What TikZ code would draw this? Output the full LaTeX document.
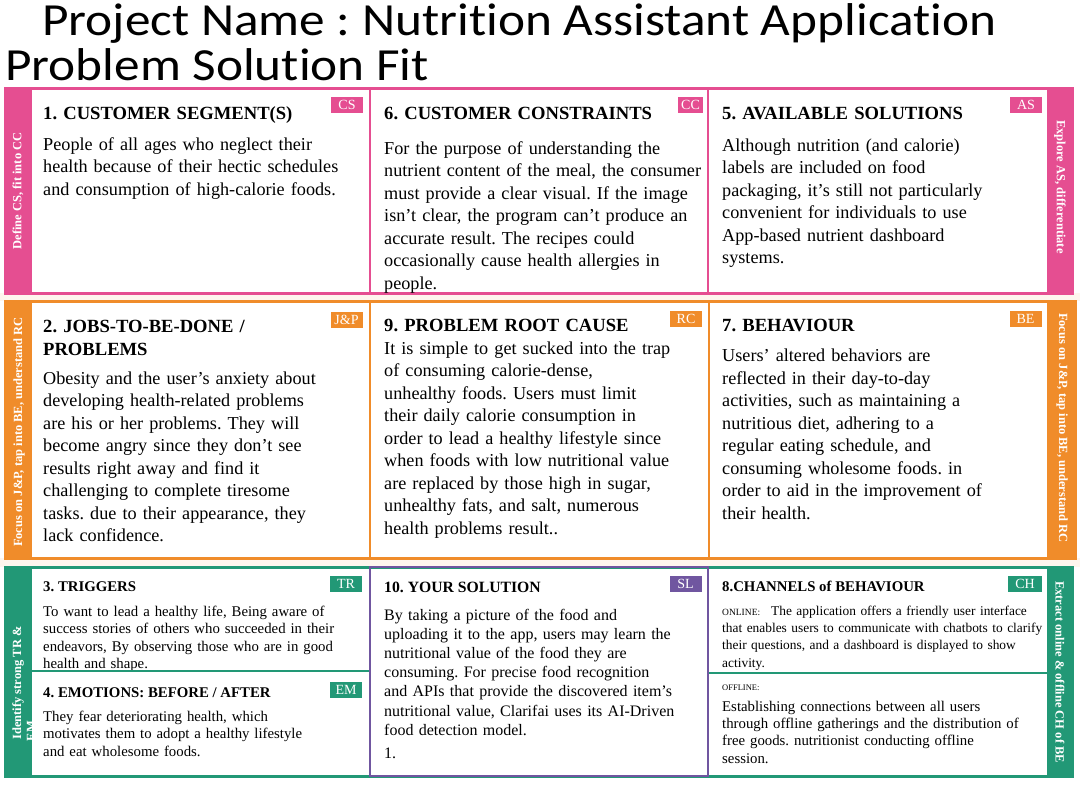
\documentclass[tikz,border=0pt]{standalone}
\usepackage{fontspec}
\setmainfont{Liberation Serif}
\newfontfamily\titlefont[Ligatures=NoCommon]{Carlito}
\usetikzlibrary{positioning}
\definecolor{fitpink}{RGB}{229,78,145}
\definecolor{fitorange}{RGB}{240,140,42}
\definecolor{fitgreen}{RGB}{34,152,118}
\definecolor{fitpurple}{RGB}{112,86,160}
\newcommand{\fsz}[2]{\fontsize{#1}{#2}\selectfont}
\frenchspacing

\tikzset{
  tagbox/.style={fill=#1, text=white, font=\fsz{14}{14}, minimum width=32pt, minimum height=16pt, inner sep=0pt},
  headtxt/.style={anchor=base west, inner sep=0pt, align=left, text width=320pt, font=\bfseries\fsz{18.6}{23}},
  bodytxt/.style={anchor=base west, inner sep=0pt, align=left, text width=330pt, font=\fsz{18.2}{22.5}},
  smallhead/.style={anchor=base west, inner sep=0pt, font=\bfseries\fsz{14.8}{17}},
  smallbody/.style={anchor=base west, inner sep=0pt, align=left, text width=330pt, font=\fsz{14.8}{17.4}},
  sidetxt/.style={text=white, inner sep=0pt, font=\bfseries\fsz{12.5}{13}},
  titletxt/.style={anchor=base west, inner sep=0pt, xscale=1.115, font=\titlefont\fsz{46}{50}},
}

\begin{document}
\begin{tikzpicture}[x=1pt, y=-1pt]
\useasboundingbox (0,0) rectangle (1080,793);
\fill[white] (0,0) rectangle (1080,793);

% title
\node[titletxt] (title) at (42,35) {Project Name : Nutrition Assistant Application};
\node[titletxt] (subtitle) at (5,80) {Problem Solution Fit};

% gaps between the rows
\fill[fitorange!8] (0,293) rectangle (1080,301);
\fill[fitorange!8] (0,558) rectangle (1080,567);

% ---- row 1 (pink)
\fill[fitpink] (5,88) rectangle (32,293);
\fill[fitpink] (1047,88) rectangle (1072,293);
\draw[fitpink, line width=3pt] (5,88) rectangle (1072,293);
\draw[fitpink, line width=2pt] (370,88) -- (370,293) (708,88) -- (708,293);
\node[sidetxt, rotate=90] (cslab) at (18,191) {Define CS, fit into CC};
\node[sidetxt, rotate=-90] (aslab) at (1060,187) {Explore AS, differentiate};

\node[headtxt] (cshead) at (43,119) {1. CUSTOMER SEGMENT(S)};
\node[bodytxt] (csbody) at (43,150) {People of all ages who neglect their\\health because of their hectic schedules\\and consumption of high-calorie foods.};
\node[tagbox=fitpink] (cs) at (347,105) {CS};

\node[headtxt] (cchead) at (384,119) {6. CUSTOMER CONSTRAINTS};
\node[bodytxt] (ccbody) at (384,154) {For the purpose of understanding the\\nutrient content of the meal, the consumer\\must provide a clear visual. If the image\\isn't clear, the program can't produce an\\accurate result. The recipes could\\occasionally cause health allergies in\\people.};
\node[tagbox=fitpink, minimum width=25pt] (cc) at (690.5,105) {CC};

\node[headtxt] (ashead) at (722,119) {5. AVAILABLE SOLUTIONS};
\node[bodytxt] (asbody) at (722,151) {Although nutrition (and calorie)\\labels are included on food\\packaging, it's still not particularly\\convenient for individuals to use\\App-based nutrient dashboard\\systems.};
\node[tagbox=fitpink] (as) at (1026,105) {AS};

% ---- row 2 (orange)
\fill[fitorange] (5,301) rectangle (32,558);
\fill[fitorange] (1047,301) rectangle (1075,558);
\draw[fitorange, line width=3pt] (5,301) rectangle (1075,558);
\draw[fitorange, line width=2pt] (370,301) -- (370,558) (709,301) -- (709,558);
\node[sidetxt, rotate=90] (jplab) at (19,432) {Focus on J\&P, tap into BE, understand RC};
\node[sidetxt, rotate=-90] (belab) at (1062,428) {Focus on J\&P, tap into BE, understand RC};

\node[headtxt] (jphead) at (43,332) {2. JOBS-TO-BE-DONE /\\PROBLEMS};
\node[bodytxt] (jpbody) at (43,384) {Obesity and the user's anxiety about\\developing health-related problems\\are his or her problems. They will\\become angry since they don't see\\results right away and find it\\challenging to complete tiresome\\tasks. due to their appearance, they\\lack confidence.};
\node[tagbox=fitorange] (jp) at (346.5,319.5) {J\&P};

\node[headtxt] (rchead) at (384,331) {9. PROBLEM ROOT CAUSE};
\node[bodytxt] (rcbody) at (384,354) {It is simple to get sucked into the trap\\of consuming calorie-dense,\\unhealthy foods. Users must limit\\their daily calorie consumption in\\order to lead a healthy lifestyle since\\when foods with low nutritional value\\are replaced by those high in sugar,\\unhealthy fats, and salt, numerous\\health problems result..};
\node[tagbox=fitorange] (rc) at (686,318.5) {RC};

\node[headtxt] (behead) at (722,331) {7. BEHAVIOUR};
\node[bodytxt] (bebody) at (722,361.5) {Users' altered behaviors are\\reflected in their day-to-day\\activities, such as maintaining a\\nutritious diet, adhering to a\\regular eating schedule, and\\consuming wholesome foods. in\\order to aid in the improvement of\\their health.};
\node[tagbox=fitorange] (be) at (1025.5,318.5) {BE};

% ---- row 3 (green / purple)
\fill[fitgreen] (5,567) rectangle (32,776);
\fill[fitgreen] (1047,567) rectangle (1072,776);
\node[sidetxt, rotate=90] (trlab) at (18,683) {Identify strong TR \&};
\begin{scope}
\clip (5,567) rectangle (32,776);
\node[sidetxt, rotate=90] (trlab2) at (31,731) {EM};
\end{scope}
\node[sidetxt, rotate=-90] (chlab) at (1060,672) {Extract online \& offline CH of BE};

\node[smallhead] (trhead) at (43,591) {3. TRIGGERS};
\node[smallbody] (trbody) at (43,616.5) {To want to lead a healthy life, Being aware of\\success stories of others who succeeded in their\\endeavors, By observing those who are in good\\health and shape.};
\node[tagbox=fitgreen] (tr) at (346,583.5) {TR};

\node[smallhead] (emhead) at (43,697) {4. EMOTIONS: BEFORE / AFTER};
\node[smallbody] (embody) at (43,721.5) {They fear deteriorating health, which\\motivates them to adopt a healthy lifestyle\\and eat wholesome foods.};
\node[tagbox=fitgreen] (em) at (346,690) {EM};

\node[smallhead, font=\bfseries\fsz{15.7}{18}] (slhead) at (384,592) {10. YOUR SOLUTION};
\node[smallbody, font=\fsz{16}{19.2}] (slbody) at (384,620) {By taking a picture of the food and\\uploading it to the app, users may learn the\\nutritional value of the food they are\\consuming. For precise food recognition\\and APIs that provide the discovered item's\\nutritional value, Clarifai uses its AI-Driven\\food detection model.};
\node[smallbody, font=\fsz{16}{19.2}] (slnum) at (384,758) {1.};
\node[tagbox=fitpurple] (sl) at (685.5,583.5) {SL};

\node[smallhead] (chhead) at (722,591) {8.CHANNELS of BEHAVIOUR};
\node[smallbody, font=\fsz{13.4}{17.4}] (online) at (722,615) {{\fsz{9.5}{10}ONLINE:}\hspace{11pt}The application offers a friendly user interface\\that enables users to communicate with chatbots to clarify\\their questions, and a dashboard is displayed to show\\activity.};
\node[smallbody, font=\fsz{8.5}{10}] (offlab) at (722,690) {OFFLINE:};
\node[smallbody] (offline) at (722,711) {Establishing connections between all users\\through offline gatherings and the distribution of\\free goods. nutritionist conducting offline\\session.};
\node[tagbox=fitgreen, minimum width=34pt] (ch) at (1025,583.5) {CH};

\draw[fitgreen, line width=3pt] (5,567) rectangle (1072,776);
\draw[fitgreen, line width=2.5pt] (32,671) -- (370,671) (709,673) -- (1047,673);
\draw[fitpurple, line width=2.5pt] (370,567) rectangle (708,776);
\end{tikzpicture}
\end{document}
